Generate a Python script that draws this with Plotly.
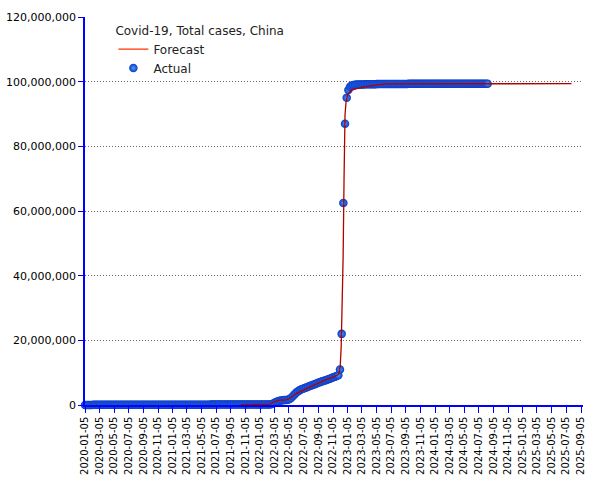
import numpy as np
import pandas as pd
import plotly.graph_objects as go

# ---- Actual weekly totals (millions), Sundays from 2020-01-05 ----
actual_2020 = [0.000, 0.000, 0.000, 0.002, 0.017, 0.040, 0.069, 0.077,
               0.080, 0.081, 0.081, 0.081, 0.082, 0.082, 0.083, 0.084, 0.084,
               0.084, 0.084, 0.084, 0.084, 0.084, 0.084, 0.084, 0.085, 0.085,
               0.085, 0.085, 0.086, 0.087, 0.088, 0.089, 0.089, 0.090, 0.090,
               0.090, 0.090, 0.090, 0.091, 0.091, 0.091, 0.091, 0.091,
               0.092, 0.092, 0.093, 0.093, 0.093, 0.094, 0.095, 0.095, 0.096]
actual_2021 = [0.097, 0.098, 0.099, 0.100, 0.101, 0.101, 0.102, 0.102, 0.102,
               0.102, 0.103, 0.103, 0.103, 0.104, 0.104, 0.104, 0.104,
               0.105, 0.105, 0.107, 0.110, 0.112, 0.115, 0.117, 0.118, 0.119,
               0.119, 0.120, 0.120, 0.121, 0.122, 0.123, 0.124, 0.124, 0.124,
               0.125, 0.125, 0.125, 0.126, 0.126, 0.126, 0.126, 0.127, 0.127,
               0.128, 0.128, 0.128, 0.129, 0.129, 0.130, 0.130, 0.131]
actual_2022 = [0.132, 0.133, 0.135, 0.137, 0.139, 0.145, 0.170, 0.250, 0.420,
               0.680, 0.950, 1.150, 1.300, 1.400, 1.470, 1.530, 1.580,
               1.650, 1.850, 2.250, 2.800, 3.350, 3.850, 4.250, 4.600, 4.850,
               5.050, 5.250, 5.450, 5.650, 5.850, 6.050, 6.250, 6.450, 6.650,
               6.850, 7.050, 7.250, 7.400, 7.550, 7.750, 7.950, 8.150, 8.350,
               8.550, 8.750, 8.950, 9.200, 11.0, 22.0, 62.5, 87.0]
actual_2023 = [95.0, 97.4, 98.4, 98.8, 99.0, 99.05, 99.10, 99.12, 99.14,
               99.15, 99.16, 99.17, 99.18, 99.19, 99.20, 99.21, 99.22, 99.23,
               99.24, 99.25, 99.26, 99.27, 99.28, 99.28, 99.29, 99.29,
               99.30, 99.30, 99.30, 99.30, 99.30, 99.30, 99.31, 99.31, 99.31,
               99.31, 99.31, 99.32, 99.32, 99.32, 99.32, 99.32, 99.32, 99.32,
               99.33, 99.33, 99.33, 99.33, 99.33, 99.34, 99.34, 99.35, 99.35]
actual_2024 = [99.36, 99.36, 99.36, 99.36, 99.37, 99.37, 99.37, 99.37,
               99.37, 99.37, 99.37, 99.37, 99.37, 99.37, 99.37, 99.37, 99.37,
               99.37, 99.37, 99.37, 99.37, 99.37, 99.37, 99.37, 99.37, 99.37,
               99.37, 99.37, 99.37, 99.37, 99.37, 99.37]

actual_millions = actual_2020 + actual_2021 + actual_2022 + actual_2023 + actual_2024
actual_dates = pd.date_range("2020-01-05", periods=len(actual_millions), freq="7D")

# ---- Forecast (millions) ----
forecast_dates = ["2021-10-17", "2022-01-09", "2022-02-13", "2022-03-06", "2022-03-20",
                  "2022-04-24", "2022-05-08", "2022-06-05", "2022-07-03", "2022-08-07",
                  "2022-09-04", "2022-10-02", "2022-11-06", "2022-11-27", "2022-12-01",
                  "2022-12-05", "2022-12-09", "2022-12-13", "2022-12-17", "2022-12-21",
                  "2022-12-25", "2022-12-29", "2023-01-05", "2023-01-19", "2023-02-19",
                  "2023-04-02", "2023-05-14", "2023-06-11", "2024-08-11", "2025-07-27"]
forecast_millions = [0.12, 0.14, 0.25, 1.0, 1.4,
                     1.6, 2.0, 3.6, 4.6, 5.7,
                     6.8, 7.7, 8.6, 9.4, 10.0,
                     12.0, 18.0, 29.0, 45.5, 70.5,
                     89.7, 93.5, 96.0, 97.3, 98.0,
                     98.6, 99.1, 99.3, 99.35, 99.37]

tick_labels = ["2020-01-05", "2020-03-05", "2020-05-05", "2020-07-05", "2020-09-05", "2020-11-05",
               "2021-01-05", "2021-03-05", "2021-05-05", "2021-07-05", "2021-09-05", "2021-11-05",
               "2022-01-05", "2022-03-05", "2022-05-05", "2022-07-05", "2022-09-05", "2022-11-05",
               "2023-01-05", "2023-03-05", "2023-05-05", "2023-07-05", "2023-09-05", "2023-11-05",
               "2024-01-05", "2024-03-05", "2024-05-05", "2024-07-05", "2024-09-05", "2024-11-05",
               "2025-01-05", "2025-03-05", "2025-05-05", "2025-07-05", "2025-09-05"]
y_ticks = [0, 20e6, 40e6, 60e6, 80e6, 100e6, 120e6]

FONT = "DejaVu Sans"

fig = go.Figure()
# legend-only entry for the forecast
fig.add_trace(go.Scatter(x=[None], y=[None], mode="lines", name="Forecast",
                         line=dict(color="#ff3300", width=1.2), legendrank=1))
fig.add_trace(go.Scatter(
    x=actual_dates, y=np.array(actual_millions) * 1e6, mode="markers", name="Actual",
    marker=dict(size=8.5, color="#0838c8",
                gradient=dict(type="radial", color="#4aa0ff"),
                line=dict(width=0)),
    cliponaxis=False, legendrank=2))
fig.add_trace(go.Scatter(
    x=pd.to_datetime(forecast_dates), y=np.array(forecast_millions) * 1e6, mode="lines",
    line=dict(color="#b00000", width=1.3), showlegend=False, cliponaxis=False))

fig.update_layout(
    width=605, height=480, autosize=False,
    margin=dict(l=85, r=22, t=17, b=75, pad=0),
    paper_bgcolor="white", plot_bgcolor="white",
    font=dict(family=FONT, color="black", size=11),
    legend=dict(x=0.057, y=0.995, xanchor="left", yanchor="top",
                bgcolor="rgba(0,0,0,0)", borderwidth=0,
                font=dict(family=FONT, size=12, color="#222222"),
                title=dict(text="Covid-19, Total cases, China",
                           font=dict(family=FONT, size=12, color="#222222")),
                tracegroupgap=0),
    xaxis=dict(type="date", range=["2020-01-05", "2025-09-13"], automargin=False,
               tickmode="array", tickvals=tick_labels, ticktext=tick_labels,
               tickangle=-90, tickfont=dict(family=FONT, size=10, color="black"),
               showgrid=False, zeroline=False,
               showline=True, linecolor="#0000ff", linewidth=1.5,
               ticks="outside", tickcolor="#0000ff", ticklen=6, tickwidth=1),
    yaxis=dict(range=[0, 120e6], tickmode="array", tickvals=y_ticks, automargin=False,
               tickformat=",d", tickfont=dict(family=FONT, size=11, color="black"),
               showgrid=True, gridcolor="#666666", griddash="1px,2px", gridwidth=1,
               zeroline=False,
               showline=True, linecolor="#0000ff", linewidth=1.5,
               ticks="outside", tickcolor="#0000ff", ticklen=5, tickwidth=1),
)

fig.write_html("out.html")
